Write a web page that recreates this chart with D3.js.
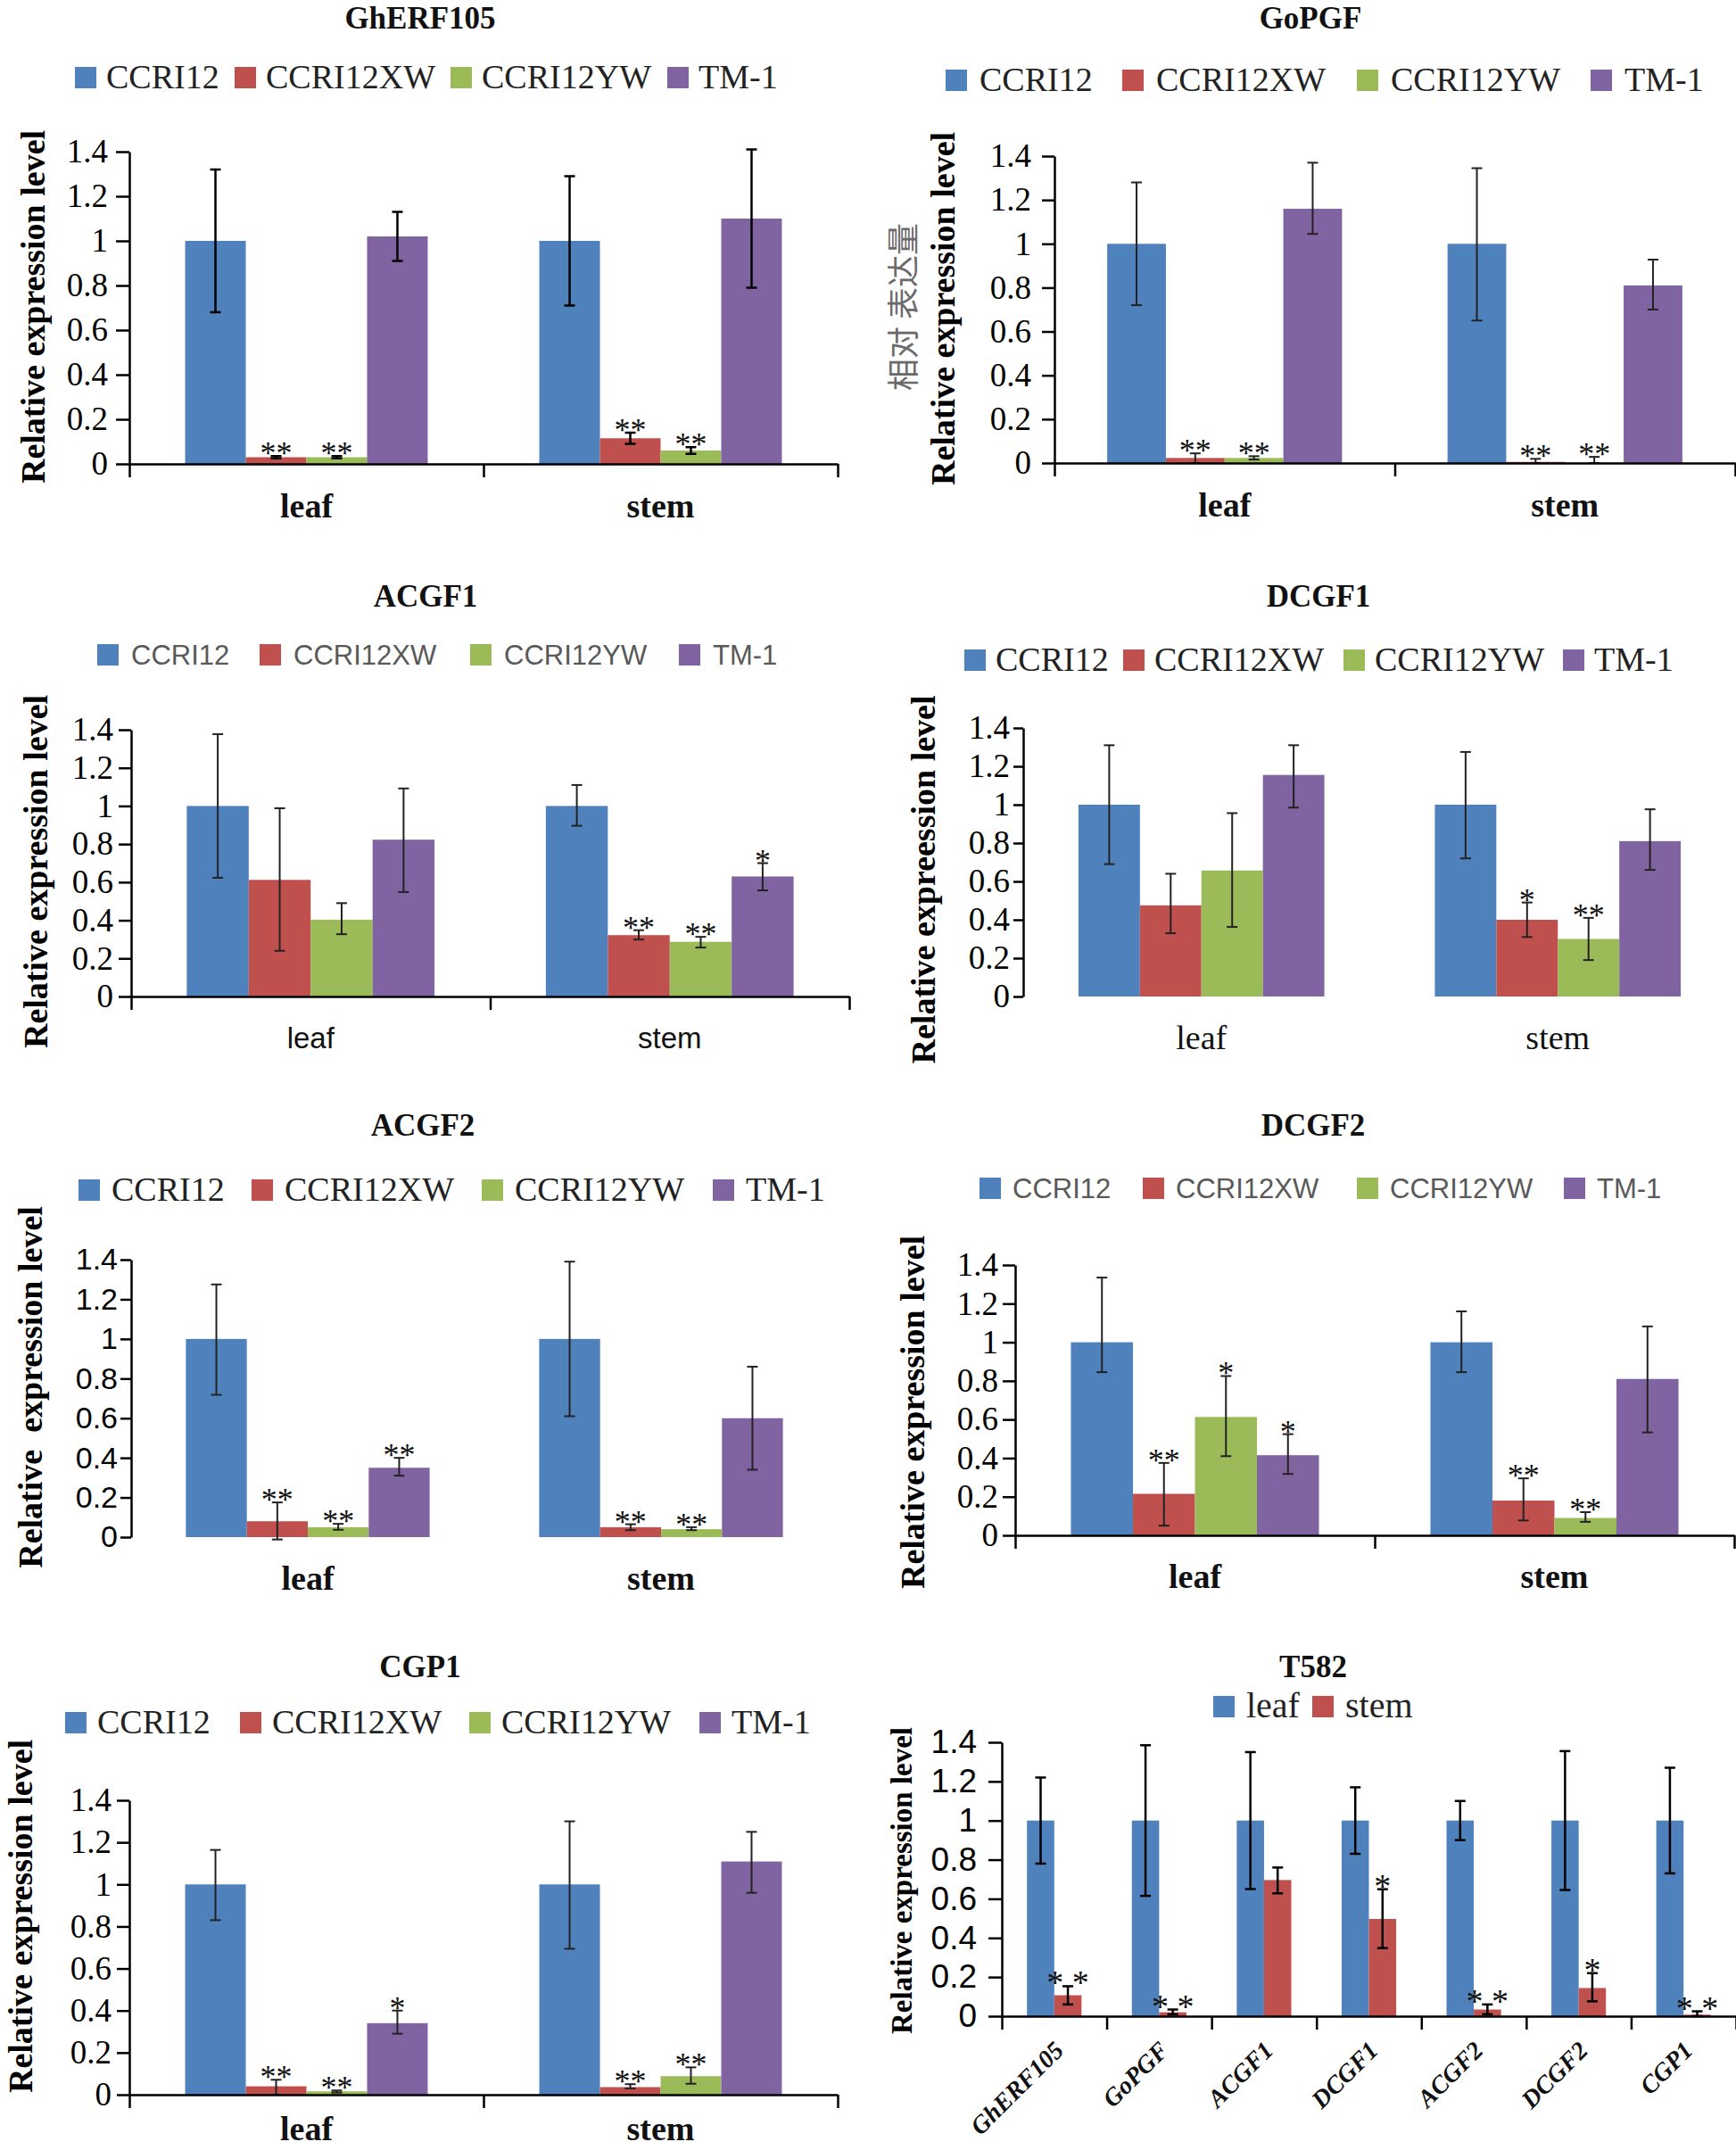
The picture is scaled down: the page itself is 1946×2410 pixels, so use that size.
<!DOCTYPE html>
<html><head><meta charset="utf-8">
<script src="https://cdn.jsdelivr.net/npm/d3@7"></script>
<style>
html,body{margin:0;padding:0;background:#fff;}
svg{display:block;}
text{white-space:pre;}
</style></head><body>
<svg id="fig" width="1946" height="2410"></svg>
<script>
// ---------------- DATA ----------------
const lines = ["CCRI12", "CCRI12XW", "CCRI12YW", "TM-1"];
const tissues = ["leaf", "stem"];
const genes = ["GhERF105", "GoPGF", "ACGF1", "DCGF1", "ACGF2", "DCGF2", "CGP1"];
const yTickValues = [0, 0.2, 0.4, 0.6, 0.8, 1, 1.2, 1.4];
const yTickLabels = ["0", "0.2", "0.4", "0.6", "0.8", "1", "1.2", "1.4"];

// order: leaf[CCRI12, XW, YW, TM-1], stem[CCRI12, XW, YW, TM-1]
const ghERF105Mean = [1.00, 0.03, 0.03, 1.02, 1.00, 0.115, 0.06, 1.10];
const ghERF105Hi   = [1.32, 0.035, 0.035, 1.13, 1.29, 0.14, 0.075, 1.41];
const ghERF105Lo   = [0.68, 0.025, 0.025, 0.91, 0.71, 0.09, 0.045, 0.79];
const ghERF105Sig  = ["", "**", "**", "", "", "**", "**", ""];

const goPGFMean = [1.00, 0.023, 0.023, 1.16, 1.00, 0.005, 0.002, 0.81];
const goPGFHi   = [1.28, 0.044, 0.031, 1.37, 1.345, 0.019, 0.028, 0.928];
const goPGFLo   = [0.72, 0.0, 0.016, 1.045, 0.65, 0.0, 0.0, 0.70];
const goPGFSig  = ["", "**", "**", "", "", "**", "**", ""];

const acgf1Mean = [1.00, 0.612, 0.403, 0.823, 1.00, 0.322, 0.287, 0.63];
const acgf1Hi   = [1.377, 0.988, 0.49, 1.092, 1.11, 0.348, 0.313, 0.70];
const acgf1Lo   = [0.623, 0.24, 0.327, 0.548, 0.896, 0.299, 0.257, 0.557];
const acgf1Sig  = ["", "", "", "", "", "**", "**", "*"];

const dcgf1Mean = [1.00, 0.475, 0.657, 1.155, 1.00, 0.40, 0.30, 0.81];
const dcgf1Hi   = [1.31, 0.64, 0.956, 1.31, 1.275, 0.49, 0.41, 0.976];
const dcgf1Lo   = [0.69, 0.33, 0.363, 0.985, 0.72, 0.31, 0.19, 0.66];
const dcgf1Sig  = ["", "", "", "", "", "*", "**", ""];

const acgf2Mean = [1.00, 0.08, 0.05, 0.35, 1.00, 0.05, 0.04, 0.60];
const acgf2Hi   = [1.275, 0.175, 0.067, 0.40, 1.39, 0.065, 0.05, 0.86];
const acgf2Lo   = [0.718, -0.012, 0.037, 0.31, 0.61, 0.035, 0.035, 0.34];
const acgf2Sig  = ["", "**", "**", "**", "", "**", "**", ""];

const dcgf2Mean = [1.00, 0.215, 0.613, 0.415, 1.00, 0.18, 0.09, 0.81];
const dcgf2Hi   = [1.335, 0.375, 0.825, 0.524, 1.16, 0.295, 0.12, 1.082];
const dcgf2Lo   = [0.845, 0.05, 0.41, 0.318, 0.845, 0.077, 0.07, 0.533];
const dcgf2Sig  = ["", "**", "*", "*", "", "**", "**", ""];

const cgp1Mean = [1.00, 0.04, 0.016, 0.34, 1.00, 0.036, 0.088, 1.109];
const cgp1Hi   = [1.164, 0.071, 0.02, 0.40, 1.30, 0.05, 0.13, 1.25];
const cgp1Lo   = [0.83, 0.0, 0.01, 0.29, 0.694, 0.03, 0.052, 0.96];
const cgp1Sig  = ["", "**", "**", "*", "", "**", "**", ""];

// T582: leaf vs stem for each gene
const t582LeafMean = [1, 1, 1, 1, 1, 1, 1];
const t582LeafHi   = [1.22, 1.385, 1.35, 1.17, 1.10, 1.355, 1.27];
const t582LeafLo   = [0.78, 0.615, 0.65, 0.83, 0.90, 0.645, 0.73];
const t582StemMean = [0.107, 0.02, 0.696, 0.497, 0.034, 0.144, 0.008];
const t582StemHi   = [0.153, 0.034, 0.76, 0.649, 0.06, 0.22, 0.025];
const t582StemLo   = [0.06, 0.01, 0.628, 0.348, 0.01, 0.076, 0.0];
const t582StemSig  = ["* *", "* *", "", "*", "* *", "*", "* *"];

// ---------------- STYLE ----------------
const colors = ["#4F81BD", "#C0504D", "#9BBB59", "#8064A2"];
const SERIF = "'Liberation Serif','Times New Roman',serif";
const SANS = "'Liberation Sans',Arial,sans-serif";
const svg = d3.select("#fig");

function styleAxis(g, font, size, sw) {
  g.selectAll("path.domain").attr("stroke", "#000").attr("stroke-width", sw);
  g.selectAll(".tick line").attr("stroke", "#000").attr("stroke-width", sw);
  g.selectAll(".tick text").attr("font-family", font).attr("font-size", size).attr("fill", "#000");
}

function drawTitle(text, x, y) {
  svg.append("text").attr("x", x).attr("y", y + 15).attr("text-anchor", "middle")
    .attr("font-family", SERIF).attr("font-weight", "bold").attr("font-size", 35).attr("fill", "#111").text(text);
}

function drawLegend(names, cols, txs, y, sqOff, font, size, color) {
  names.forEach((n, i) => {
    svg.append("rect").attr("x", txs[i] + sqOff).attr("y", y - 12).attr("width", 24).attr("height", 24).attr("fill", cols[i]);
    svg.append("text").attr("x", txs[i]).attr("y", y + (font === SANS ? 11 : 12))
      .attr("font-family", font).attr("font-size", size).attr("fill", color).text(n);
  });
}

function drawYLabel(text, x, y, size, opts = {}) {
  svg.append("text").attr("transform", `translate(${x},${y}) rotate(-90)`)
    .attr("text-anchor", "middle").attr("dy", "0.35em")
    .attr("font-family", opts.font || SERIF).attr("font-weight", opts.weight || "bold")
    .attr("font-size", size).attr("fill", opts.color || "#000").text(text);
}

function groupedPanel(c) {
  const y = d3.scaleLinear().domain([0, 1.4]).range([c.y0, c.y14]);
  const x0 = d3.scaleBand().domain(tissues).range([c.ax, c.axEnd]);
  const gw = x0.bandwidth() * c.frac;
  const x1 = d3.scaleBand().domain(lines).range([0, gw]);
  const off = (x0.bandwidth() - gw) / 2;
  const sw = c.sw || 2.5;

  drawTitle(c.title, c.titleX, c.titleY);
  drawLegend(lines, colors, c.legendX, c.legendY, c.sqOff, c.legendFont, c.legendSize, c.legendColor);

  const g = svg.append("g");
  const recs = [];
  tissues.forEach((t, ti) => lines.forEach((l, li) => {
    const k = ti * 4 + li;
    recs.push({t, l, li, m: c.mean[k], hi: c.hi[k], lo: c.lo[k], s: c.sig[k]});
  }));
  const bx = d => x0(d.t) + off + x1(d.l);
  g.selectAll("rect.bar").data(recs).join("rect").attr("class", "bar")
    .attr("x", bx).attr("width", x1.bandwidth())
    .attr("y", d => y(d.m)).attr("height", d => y(0) - y(d.m))
    .attr("fill", d => colors[d.li]);

  if (c.xAxis) {
    const xb = d3.scaleLinear().domain([0, tissues.length]).range([c.ax, c.axEnd]);
    const xa = svg.append("g").attr("transform", `translate(0,${c.y0})`)
      .call(d3.axisBottom(xb).tickValues(d3.range(tissues.length + 1)).tickSize(15).tickSizeOuter(0).tickFormat(""));
    styleAxis(xa, SERIF, 10, sw);
  }
  const ya = svg.append("g").attr("transform", `translate(${c.ax},0)`)
    .call(d3.axisLeft(y).tickValues(yTickValues).tickFormat((d, i) => yTickLabels[i])
      .tickSize(c.tickLen).tickSizeOuter(0).tickPadding(c.tickPad));
  styleAxis(ya, c.tickFont, c.tickSize, sw);

  const cx = d => bx(d) + x1.bandwidth() / 2;
  const eb = g.append("g").attr("stroke", c.errColor || "#222").attr("stroke-width", c.errW || 2);
  eb.selectAll("line.v").data(recs).join("line").attr("x1", cx).attr("x2", cx)
    .attr("y1", d => y(d.lo)).attr("y2", d => y(d.hi));
  eb.selectAll("line.t").data(recs).join("line").attr("x1", d => cx(d) - 6).attr("x2", d => cx(d) + 6)
    .attr("y1", d => y(d.hi)).attr("y2", d => y(d.hi));
  eb.selectAll("line.b").data(recs).join("line").attr("x1", d => cx(d) - 6).attr("x2", d => cx(d) + 6)
    .attr("y1", d => y(d.lo)).attr("y2", d => y(d.lo));

  g.selectAll("text.sig").data(recs.filter(d => d.s)).join("text")
    .attr("x", cx).attr("y", d => y(d.hi) + 9).attr("text-anchor", "middle")
    .attr("font-family", SERIF).attr("font-size", 36).attr("fill", "#111").text(d => d.s);

  svg.selectAll(null).data(tissues).join("text")
    .attr("x", t => x0(t) + x0.bandwidth() / 2).attr("y", c.catY)
    .attr("text-anchor", "middle").attr("font-family", c.catFont).attr("font-weight", c.catWeight)
    .attr("font-size", c.catSize).attr("fill", "#111").text(t => t);

  drawYLabel(c.yLabel, c.yLabelX, c.yLabelY, 38);
}

// ---------------- PANELS ----------------
groupedPanel({title: genes[0], titleX: 471, titleY: 17,
  legendX: [119, 298, 540, 783], legendY: 87, sqOff: -35, legendFont: SERIF, legendSize: 38, legendColor: "#222",
  ax: 145, axEnd: 939, y0: 520, y14: 170, frac: 0.685, xAxis: true,
  tickFont: SERIF, tickSize: 37, tickLen: 15, tickPad: 9,
  mean: ghERF105Mean, hi: ghERF105Hi, lo: ghERF105Lo, sig: ghERF105Sig, errColor: "#000", errW: 2.5,
  catY: 580, catFont: SERIF, catWeight: "bold", catSize: 38,
  yLabel: "Relative expression level", yLabelX: 37, yLabelY: 344});

groupedPanel({title: genes[1], titleX: 1469, titleY: 17,
  legendX: [1098, 1296, 1559, 1821], legendY: 90, sqOff: -38, legendFont: SERIF, legendSize: 38, legendColor: "#222",
  ax: 1182, axEnd: 1945, y0: 519, y14: 175, frac: 0.69, xAxis: true,
  tickFont: SERIF, tickSize: 37, tickLen: 14, tickPad: 12,
  mean: goPGFMean, hi: goPGFHi, lo: goPGFLo, sig: goPGFSig,
  catY: 579, catFont: SERIF, catWeight: "bold", catSize: 38,
  yLabel: "Relative expression level", yLabelX: 1057, yLabelY: 346});
drawYLabel("相对 表达量", 1013, 344, 36, {font: "'Noto Sans CJK SC',sans-serif", weight: "normal", color: "#6a6a6a"});

groupedPanel({title: genes[2], titleX: 477, titleY: 665,
  legendX: [147, 329, 565, 799], legendY: 734, sqOff: -38, legendFont: SANS, legendSize: 31, legendColor: "#595959",
  ax: 147, axEnd: 952, y0: 1117, y14: 818, frac: 0.69, xAxis: true,
  tickFont: SERIF, tickSize: 37, tickLen: 14, tickPad: 6,
  mean: acgf1Mean, hi: acgf1Hi, lo: acgf1Lo, sig: acgf1Sig,
  catY: 1175, catFont: SANS, catWeight: "normal", catSize: 33,
  yLabel: "Relative expression level", yLabelX: 40, yLabelY: 977});

groupedPanel({title: genes[3], titleX: 1478, titleY: 665,
  legendX: [1116, 1294, 1541, 1787], legendY: 740, sqOff: -35, legendFont: SERIF, legendSize: 38, legendColor: "#222",
  ax: 1147, axEnd: 1946, y0: 1117, y14: 816, frac: 0.69, xAxis: false,
  tickFont: SERIF, tickSize: 37, tickLen: 11, tickPad: 4,
  mean: dcgf1Mean, hi: dcgf1Hi, lo: dcgf1Lo, sig: dcgf1Sig,
  catY: 1176, catFont: SERIF, catWeight: "normal", catSize: 38,
  yLabel: "Relative expreession level", yLabelX: 1035, yLabelY: 986});

groupedPanel({title: genes[4], titleX: 474, titleY: 1258,
  legendX: [125, 319, 577, 836], legendY: 1334, sqOff: -37, legendFont: SERIF, legendSize: 38, legendColor: "#222",
  ax: 147, axEnd: 939, y0: 1723, y14: 1412, frac: 0.69, xAxis: false,
  tickFont: SANS, tickSize: 34, tickLen: 12, tickPad: 3,
  mean: acgf2Mean, hi: acgf2Hi, lo: acgf2Lo, sig: acgf2Sig,
  catY: 1782, catFont: SERIF, catWeight: "bold", catSize: 38,
  yLabel: "Relative  expression level", yLabelX: 34, yLabelY: 1555});

groupedPanel({title: genes[5], titleX: 1472, titleY: 1258,
  legendX: [1135, 1318, 1558, 1790], legendY: 1332, sqOff: -37, legendFont: SANS, legendSize: 31, legendColor: "#595959",
  ax: 1138, axEnd: 1944, y0: 1721, y14: 1418, frac: 0.69, xAxis: true,
  tickFont: SERIF, tickSize: 37, tickLen: 14, tickPad: 5,
  mean: dcgf2Mean, hi: dcgf2Hi, lo: dcgf2Lo, sig: dcgf2Sig,
  catY: 1780, catFont: SERIF, catWeight: "bold", catSize: 38,
  yLabel: "Relative expression level", yLabelX: 1023, yLabelY: 1583});

groupedPanel({title: genes[6], titleX: 471, titleY: 1865,
  legendX: [109, 305, 562, 820], legendY: 1931, sqOff: -36, legendFont: SERIF, legendSize: 38, legendColor: "#222",
  ax: 145, axEnd: 939, y0: 2348, y14: 2018, frac: 0.685, xAxis: true,
  tickFont: SERIF, tickSize: 37, tickLen: 14, tickPad: 6,
  mean: cgp1Mean, hi: cgp1Hi, lo: cgp1Lo, sig: cgp1Sig,
  catY: 2399, catFont: SERIF, catWeight: "bold", catSize: 38,
  yLabel: "Relative expression level", yLabelX: 23, yLabelY: 2148});

// ---------------- T582 ----------------
(function () {
  const ax = 1123, axEnd = 1946, y0 = 2260, y14 = 1953;
  const y = d3.scaleLinear().domain([0, 1.4]).range([y0, y14]);
  const x0 = d3.scaleBand().domain(genes).range([ax, axEnd]);
  const gw = x0.bandwidth() * 0.52;
  const x1 = d3.scaleBand().domain(tissues).range([0, gw]);
  const off = (x0.bandwidth() - gw) / 2;
  const tcol = [colors[0], colors[1]];

  drawTitle("T582", 1472, 1865);
  drawLegend(tissues, tcol, [1397, 1508], 1913, -37, SERIF, 40, "#222");

  const recs = [];
  genes.forEach((gname, gi) => {
    recs.push({g: gname, t: "leaf", ti: 0, m: t582LeafMean[gi], hi: t582LeafHi[gi], lo: t582LeafLo[gi], s: ""});
    recs.push({g: gname, t: "stem", ti: 1, m: t582StemMean[gi], hi: t582StemHi[gi], lo: t582StemLo[gi], s: t582StemSig[gi]});
  });
  const bx = d => x0(d.g) + off + x1(d.t);
  const cx = d => bx(d) + x1.bandwidth() / 2;
  const g = svg.append("g");
  g.selectAll("rect").data(recs).join("rect")
    .attr("x", bx).attr("width", x1.bandwidth())
    .attr("y", d => y(d.m)).attr("height", d => y(0) - y(d.m)).attr("fill", d => tcol[d.ti]);

  const xb = d3.scaleLinear().domain([0, genes.length]).range([ax, axEnd]);
  const xa = svg.append("g").attr("transform", `translate(0,${y0})`)
    .call(d3.axisBottom(xb).tickValues(d3.range(genes.length + 1)).tickSize(15).tickSizeOuter(0).tickFormat(""));
  styleAxis(xa, SERIF, 10, 2.5);
  const ya = svg.append("g").attr("transform", `translate(${ax},0)`)
    .call(d3.axisLeft(y).tickValues(yTickValues).tickFormat((d, i) => yTickLabels[i]).tickSize(15).tickSizeOuter(0).tickPadding(13));
  styleAxis(ya, SANS, 37, 2.5);

  const eb = g.append("g").attr("stroke", "#000").attr("stroke-width", 2.5);
  eb.selectAll("line.v").data(recs).join("line").attr("x1", cx).attr("x2", cx)
    .attr("y1", d => y(d.lo)).attr("y2", d => y(d.hi));
  eb.selectAll("line.t").data(recs).join("line").attr("x1", d => cx(d) - 6).attr("x2", d => cx(d) + 6)
    .attr("y1", d => y(d.hi)).attr("y2", d => y(d.hi));
  eb.selectAll("line.b").data(recs).join("line").attr("x1", d => cx(d) - 6).attr("x2", d => cx(d) + 6)
    .attr("y1", d => y(d.lo)).attr("y2", d => y(d.lo));
  g.selectAll("text.sig").data(recs.filter(d => d.s)).join("text")
    .attr("x", cx).attr("y", d => y(d.hi) + 9).attr("text-anchor", "middle")
    .attr("font-family", SERIF).attr("font-size", 38).attr("fill", "#111").text(d => d.s);

  svg.selectAll(null).data(genes).join("text")
    .attr("transform", d => `translate(${x0(d) + x0.bandwidth() / 2 + 12},${y0 + 40}) rotate(-45)`)
    .attr("text-anchor", "end").attr("font-family", SERIF).attr("font-weight", "bold").attr("font-style", "italic")
    .attr("font-size", 28).attr("fill", "#111").text(d => d);

  drawYLabel("Relative expression level", 1010, 2108, 33);
})();
</script>
</body></html>
